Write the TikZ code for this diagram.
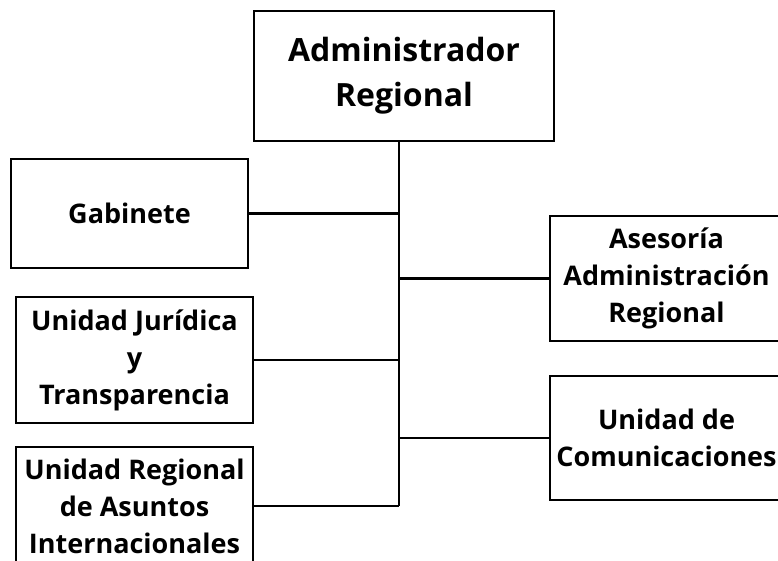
\documentclass[tikz,border=0pt]{standalone}
\usepackage{fontspec}
\setmainfont{Open Sans}
\usepackage{tikz}

\begin{document}
\begin{tikzpicture}[x=1pt,y=-1pt,
    caja/.style={draw, line width=2.2pt, align=center, font=\bfseries\fontsize{27}{37}\selectfont,
                 minimum width=237pt, inner sep=0pt},
    linea/.style={line width=2.2pt}]
    %\draw[step=50,gray,very thin] (0,0) grid (778,560);
    \clip (0,0) rectangle (778,560);

    \node[caja, minimum width=300pt, minimum height=130pt,
          font=\bfseries\fontsize{32}{45}\selectfont] (admin) at (404,76) {Administrador\\Regional};

    \node[caja, minimum height=109pt] (gab) at (129.5,213.5) {Gabinete};
    \node[caja, minimum height=126pt] (jur) at (134.5,360) {Unidad Jurídica\\y\\Transparencia};
    \node[caja, minimum height=118pt] (intl) at (134.5,506) {Unidad Regional\\de Asuntos\\Internacionales};

    \node[caja, minimum width=233pt, minimum height=125pt] (ases) at (666.5,278.5) {Asesoría\\Administración\\Regional};
    \node[caja, minimum width=233pt, minimum height=124pt] (com) at (666.5,438) {Unidad de\\Comunicaciones};

    % tronco
    \coordinate (tronco) at ([xshift=-5pt]admin.south);
    \draw[linea] (tronco) -- (tronco |- intl.east);
    \draw[linea] (gab.east) -- (gab.east -| tronco);
    \draw[linea] (jur.east) -- (jur.east -| tronco);
    \draw[linea] (intl.east) -- (intl.east -| tronco);
    \draw[linea] (ases.west) -- (ases.west -| tronco);
    \draw[linea] (com.west) -- (com.west -| tronco);

\end{tikzpicture}
\end{document}
